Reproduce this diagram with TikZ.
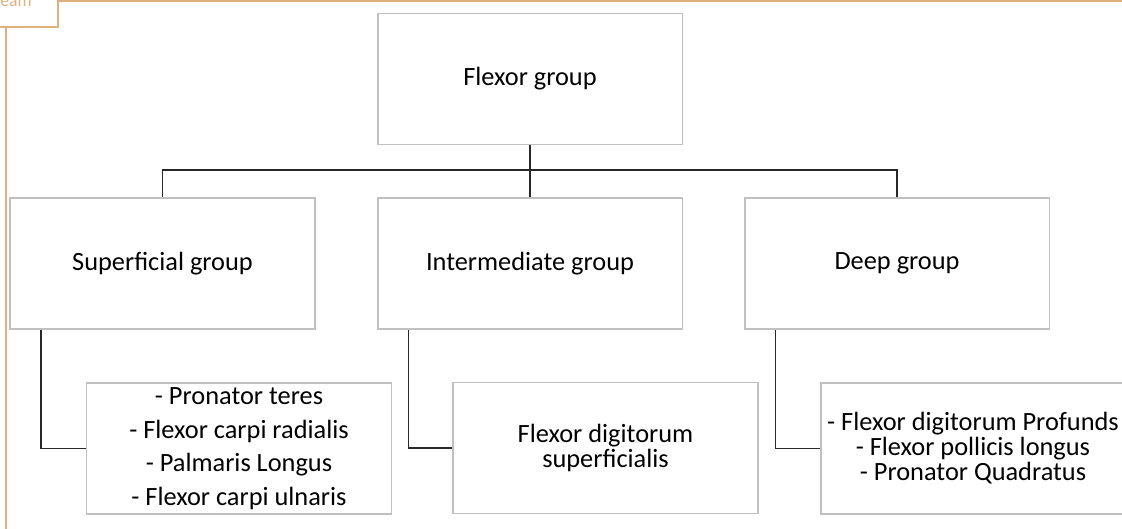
\documentclass[tikz,border=0pt]{standalone}
\usepackage{fontspec}
\setmainfont{Carlito}
\definecolor{tabcol}{RGB}{222,178,128}
\definecolor{boxline}{RGB}{192,192,192}
\definecolor{linkcol}{RGB}{40,40,40}
\begin{document}
\begin{tikzpicture}[x=0.02cm, y=-0.02cm,
    box/.style={draw=boxline, line width=1.1pt, fill=white, minimum width=6.1cm,
      minimum height=2.62cm, inner sep=0pt, align=center,
      font=\fontsize{15}{14.2}\selectfont},
    link/.style={draw=linkcol, line width=0.85pt},
    tabline/.style={draw=tabcol, line width=1.1pt}]
  \clip (0,0) rectangle (1122,528);

  % frame of the page
  \draw[tabline] (-5,-5) rectangle (58,27);
  \node[anchor=base west, inner sep=0pt, text=tabcol,
    font=\fontsize{10}{10}\selectfont] (tabtext) at (0,6) {eam};
  \draw[tabline] (58,1) -- (1130,1);
  \draw[tabline] (6,27) -- (6,540);

  % boxes
  \node[box] (top) at (530,79) {Flexor group};
  \node[box] (sup) at (162.5,263.5) {Superficial group};
  \node[box] (mid) at (530,263.5) {Intermediate group};
  \node[box] (deep) at (897,263.5) {Deep group};

  \node[box, font=\fontsize{15}{19.1}\selectfont] (sup-list) at (239,448.5)
    {- Pronator teres\\ - Flexor carpi radialis\\ - Palmaris Longus\\ - Flexor carpi ulnaris};
  \node[box] (mid-list) at (605.5,448)
    {Flexor digitorum\\ superficialis};
  \node[box] (deep-list) at (973,448.5)
    {- Flexor digitorum Profunds\\ - Flexor pollicis longus\\ - Pronator Quadratus};

  % connectors
  \coordinate (bus) at (530,170);
  \draw[link] (top.south) -- (bus);
  \foreach \n in {sup, mid, deep} {
    \draw[link] (bus) -| (\n.north);
    \draw[link] (\n.south west) ++(32,0) |- (\n-list.west);
  }
\end{tikzpicture}
\end{document}
